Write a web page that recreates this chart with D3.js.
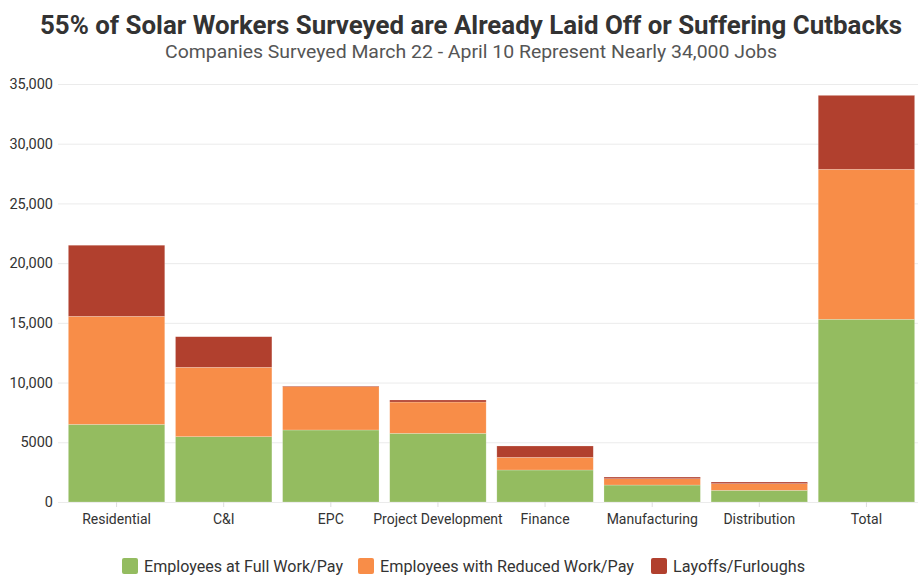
<!DOCTYPE html>
<html lang="en">
  <head>
    <meta charset="utf-8">
    <style type="text/css">
      body { margin: 0; background-color: #fff; }
      #chart { width: 918px; height: 575px; }
      text { font-family: Roboto, "Noto Sans", sans-serif; }
    </style>
  </head>
  <body>
    <div id="chart"><svg width="918" height="575"></svg></div>

    <script src="https://d3js.org/d3.v7.min.js"></script>
    <script type="text/javascript">
      // chart values
      var categories = ["Residential", "C&I", "EPC", "Project Development", "Finance", "Manufacturing", "Distribution", "Total"];
      var fullPay    = [6500, 5470, 6030, 5750, 2680, 1420, 980, 15300];
      var reducedPay = [9050, 5810, 3630, 2620, 1060, 530, 555, 12560];
      var layoffs    = [5950, 2560, 50, 170, 950, 140, 140, 6190];
      var seriesNames = ["Employees at Full Work/Pay", "Employees with Reduced Work/Pay", "Layoffs/Furloughs"];
      var yTicks = [0, 5000, 10000, 15000, 20000, 25000, 30000, 35000];

      var colors = ["#94bc60", "#f88d48", "#b1402e"];

      var svg = d3.select("#chart svg");

      // rows for the stack
      var rows = categories.map(function(c, i) {
        return {cat: c, full: fullPay[i], reduced: reducedPay[i], layoffs: layoffs[i]};
      });
      var keys = ["full", "reduced", "layoffs"];
      var stacked = d3.stack().keys(keys)(rows);

      var x = d3.scaleBand().domain(categories).range([63, 920]).paddingInner(0.1).paddingOuter(0.05);
      var y = d3.scaleLinear().domain([0, 35000]).range([502, 84]);

      // title
      svg.append("text")
        .attr("x", 471).attr("y", 34)
        .attr("text-anchor", "middle")
        .attr("font-size", 26).attr("font-weight", "bold")
        .attr("fill", "#333")
        .attr("textLength", 862).attr("lengthAdjust", "spacingAndGlyphs")
        .text("55% of Solar Workers Surveyed are Already Laid Off or Suffering Cutbacks");

      svg.append("text")
        .attr("x", 471).attr("y", 58)
        .attr("text-anchor", "middle")
        .attr("font-size", 18)
        .attr("fill", "#555")
        .attr("textLength", 612).attr("lengthAdjust", "spacingAndGlyphs")
        .text("Companies Surveyed March 22 - April 10 Represent Nearly 34,000 Jobs");

      // gridlines + y axis
      var yAxis = svg.append("g")
        .attr("transform", "translate(58,0)")
        .call(d3.axisLeft(y).tickValues(yTicks).tickSize(-860)
          .tickFormat(function(d) { return d < 10000 ? String(d) : d3.format(",")(d); }));
      yAxis.select(".domain").remove();
      yAxis.selectAll(".tick line").attr("stroke", "#ebebeb");
      yAxis.selectAll(".tick text")
        .attr("x", -5).attr("font-size", 14.5).attr("fill", "#333")
        .style("font-family", "Roboto, sans-serif");

      // bars
      svg.append("g").selectAll("g")
        .data(stacked)
        .join("g")
          .attr("fill", function(d, i) { return colors[i]; })
        .selectAll("rect")
        .data(function(d) { return d; })
        .join("rect")
          .attr("x", function(d) { return x(d.data.cat); })
          .attr("y", function(d) { return y(d[1]); })
          .attr("width", x.bandwidth())
          .attr("height", function(d) { return y(d[0]) - y(d[1]); })
          .attr("stroke", "#fff").attr("stroke-opacity", 0.35).attr("stroke-width", 0.6);

      // x axis
      var xAxis = svg.append("g")
        .attr("transform", "translate(0,502)")
        .call(d3.axisBottom(x).tickSize(5).tickPadding(7));
      xAxis.select(".domain").remove();
      xAxis.selectAll(".tick line").attr("stroke", "#ddd");
      xAxis.selectAll(".tick text")
        .attr("font-size", 14).attr("fill", "#333")
        .style("font-family", "Roboto, sans-serif");

      // legend
      var legendX = [122, 358, 651];
      var legendW = [199, 254, 132];
      var legend = svg.append("g").selectAll("g")
        .data(seriesNames)
        .join("g")
          .attr("transform", function(d, i) { return "translate(" + legendX[i] + ",558)"; });
      legend.append("rect")
        .attr("width", 16).attr("height", 16).attr("rx", 2)
        .attr("fill", function(d, i) { return colors[i]; });
      legend.append("text")
        .attr("x", 22).attr("y", 14)
        .attr("font-size", 16).attr("fill", "#333")
        .attr("textLength", function(d, i) { return legendW[i]; })
        .attr("lengthAdjust", "spacingAndGlyphs")
        .text(function(d) { return d; });
    </script>
  </body>
</html>
